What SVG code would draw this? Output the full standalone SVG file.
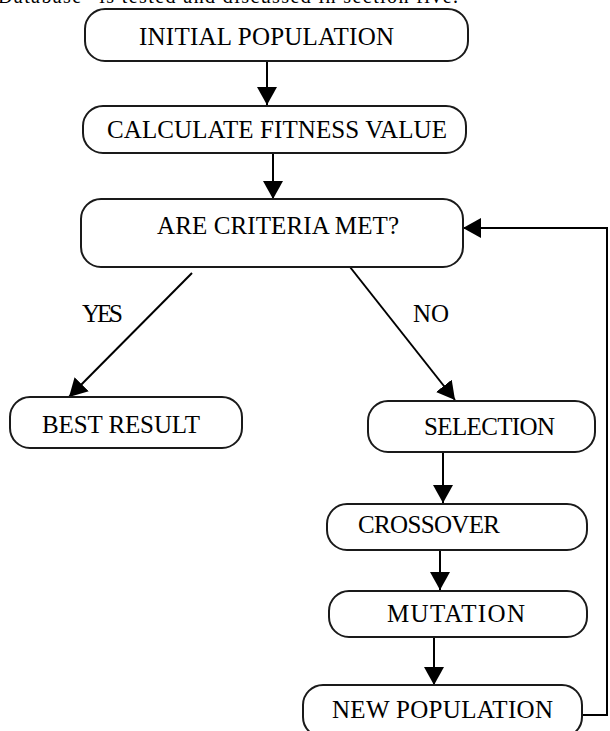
<svg xmlns="http://www.w3.org/2000/svg" width="610" height="731" viewBox="0 0 610 731">
  <style>
    .box { fill: #ffffff; stroke: #1a1a1a; stroke-width: 2; }
    .lbl { font-family: "Liberation Serif", "Times New Roman", serif; font-size: 25px; fill: #000000; }
    .edge { fill: none; stroke: #000000; stroke-width: 2; }
  </style>
  <defs>
    <marker id="arrow" markerUnits="userSpaceOnUse" markerWidth="20" markerHeight="22" refX="18" refY="10" orient="auto">
      <path d="M0,0 L18,10 L0,20 Z" fill="#000000"/>
    </marker>
  </defs>
  <rect width="610" height="731" fill="#ffffff"/>
  <text class="lbl" x="-2" y="3" font-size="20" style="font-size:20px" textLength="460">Database” is tested and discussed in section five.</text>

  <g id="connectors">
    <path class="edge" d="M267,61 L267,105" marker-end="url(#arrow)"/>
    <path class="edge" d="M273,153 L273,199" marker-end="url(#arrow)"/>
    <path class="edge" d="M192,273 L69,397" marker-end="url(#arrow)"/>
    <path class="edge" d="M350,267 L455,400" marker-end="url(#arrow)"/>
    <path class="edge" d="M443,452 L443,503" marker-end="url(#arrow)"/>
    <path class="edge" d="M440,550 L440,590" marker-end="url(#arrow)"/>
    <path class="edge" d="M434,637 L434,685" marker-end="url(#arrow)"/>
    <path class="edge" d="M582,715 L607,715 L607,228 L463,228" marker-end="url(#arrow)"/>
    <text class="lbl" x="82" y="322" textLength="41">YES</text>
    <text class="lbl" x="413" y="322" textLength="36">NO</text>
  </g>

  <g id="initial-population">
    <rect class="box" x="85" y="9" width="383" height="52" rx="20"/>
    <text class="lbl" x="139" y="45" textLength="255">INITIAL POPULATION</text>
  </g>
  <g id="calculate-fitness">
    <rect class="box" x="83" y="106" width="383" height="47" rx="20"/>
    <text class="lbl" x="107" y="138" textLength="340">CALCULATE FITNESS VALUE</text>
  </g>
  <g id="criteria">
    <rect class="box" x="81" y="199" width="382" height="68" rx="20"/>
    <text class="lbl" x="157" y="234" textLength="242">ARE CRITERIA MET?</text>
  </g>
  <g id="best-result">
    <rect class="box" x="10" y="397" width="232" height="51" rx="20"/>
    <text class="lbl" x="42" y="433" textLength="158">BEST RESULT</text>
  </g>
  <g id="selection">
    <rect class="box" x="368" y="401" width="227" height="51" rx="20"/>
    <text class="lbl" x="424" y="435" textLength="131">SELECTION</text>
  </g>
  <g id="crossover">
    <rect class="box" x="327" y="504" width="260" height="46" rx="20"/>
    <text class="lbl" x="358" y="533" textLength="142">CROSSOVER</text>
  </g>
  <g id="mutation">
    <rect class="box" x="329" y="591" width="258" height="46" rx="20"/>
    <text class="lbl" x="387" y="622" textLength="138">MUTATION</text>
  </g>
  <g id="new-population">
    <rect class="box" x="303" y="685" width="279" height="52" rx="20"/>
    <text class="lbl" x="332" y="718" textLength="221">NEW POPULATION</text>
  </g>
</svg>
